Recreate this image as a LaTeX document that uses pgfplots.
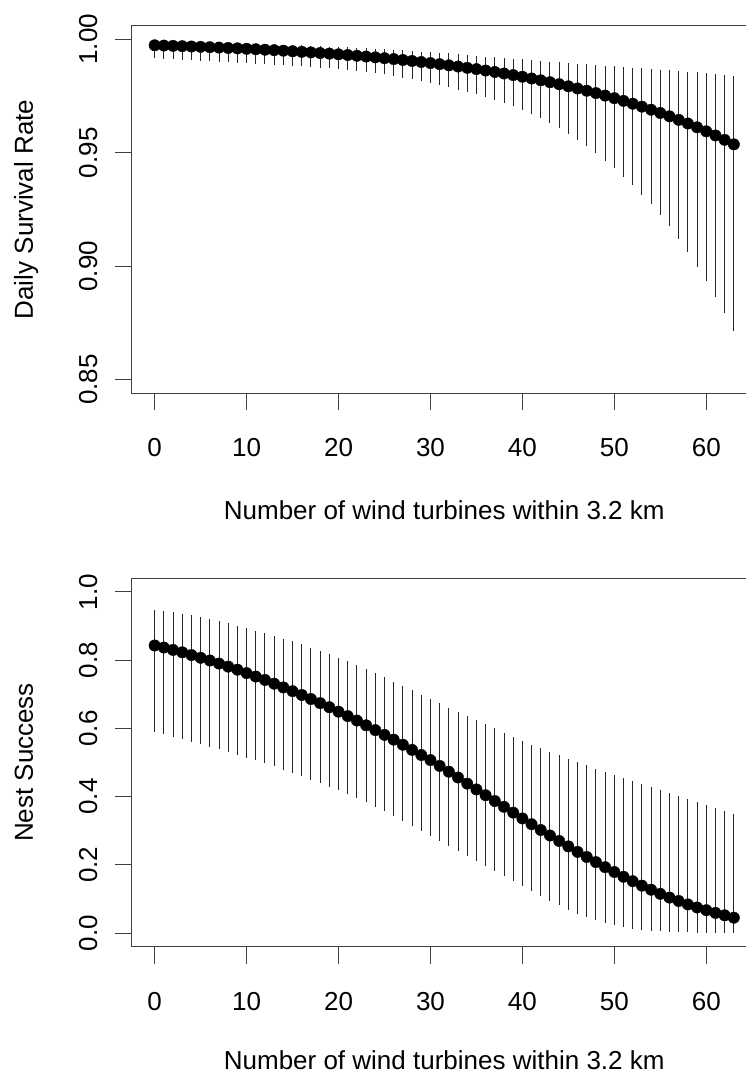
\documentclass[border=0pt]{standalone}
\usepackage{fontspec}
\setmainfont{Liberation Sans}
\usepackage{pgfplots}
\usepackage{pgfplotstable}
\pgfplotsset{compat=1.18}

% Daily survival rate: x, estimate, lower, upper
\pgfplotstableread{
x y lo hi
0 0.997359 0.99194 0.99906
1 0.997234 0.99150 0.99899
2 0.997104 0.99135 0.99892
3 0.996968 0.99106 0.99884
4 0.996825 0.99077 0.99877
5 0.996676 0.99062 0.99868
6 0.996519 0.99047 0.99859
7 0.996355 0.99018 0.99850
8 0.996184 0.99003 0.99839
9 0.996004 0.98974 0.99828
10 0.995816 0.98959 0.99817
11 0.995619 0.98930 0.99805
12 0.995413 0.98901 0.99792
13 0.995197 0.98886 0.99778
14 0.994971 0.98857 0.99765
15 0.994735 0.98842 0.99749
16 0.994488 0.98813 0.99734
17 0.994229 0.98783 0.99718
18 0.993958 0.98754 0.99700
19 0.993674 0.98725 0.99682
20 0.993377 0.98695 0.99662
21 0.993066 0.98651 0.99644
22 0.992741 0.98607 0.99623
23 0.992401 0.98563 0.99603
24 0.992045 0.98519 0.99580
25 0.991672 0.98461 0.99557
26 0.991282 0.98390 0.99534
27 0.990874 0.98315 0.99511
28 0.990446 0.98235 0.99487
29 0.990000 0.98152 0.99460
30 0.989532 0.98065 0.99434
31 0.989042 0.97975 0.99414
32 0.988531 0.97880 0.99375
33 0.987996 0.97780 0.99338
34 0.987436 0.97677 0.99300
35 0.986849 0.97570 0.99265
36 0.986237 0.97455 0.99232
37 0.985596 0.97330 0.99200
38 0.984926 0.97195 0.99170
39 0.984225 0.97050 0.99140
40 0.983491 0.96895 0.99110
41 0.982725 0.96720 0.99080
42 0.981924 0.96530 0.99050
43 0.981086 0.96310 0.99020
44 0.980210 0.96070 0.98990
45 0.979294 0.95830 0.98960
46 0.978337 0.95570 0.98930
47 0.977336 0.95285 0.98900
48 0.976291 0.94975 0.98870
49 0.975198 0.94650 0.98840
50 0.974056 0.94310 0.98810
51 0.972864 0.93950 0.98780
52 0.971618 0.93565 0.98750
53 0.970317 0.93160 0.98720
54 0.968958 0.92730 0.98690
55 0.967538 0.92265 0.98660
56 0.966057 0.91760 0.98630
57 0.964510 0.91215 0.98600
58 0.962895 0.90620 0.98570
59 0.961209 0.89985 0.98540
60 0.959451 0.89345 0.98510
61 0.957616 0.88665 0.98475
62 0.955702 0.87935 0.98440
63 0.953707 0.87160 0.98404
}\dsr

% Nest success: x, estimate, lower, upper
\pgfplotstableread{
x y lo hi
0 0.843 0.5901 0.9460
1 0.837 0.5832 0.9432
2 0.830 0.5760 0.9400
3 0.823 0.5688 0.9362
4 0.815 0.5614 0.9312
5 0.807 0.5538 0.9254
6 0.799 0.5461 0.9195
7 0.790 0.5384 0.9140
8 0.781 0.5306 0.9080
9 0.772 0.5227 0.9012
10 0.762 0.5146 0.8940
11 0.752 0.5060 0.8865
12 0.742 0.4972 0.8790
13 0.731 0.4884 0.8713
14 0.720 0.4791 0.8633
15 0.709 0.4695 0.8548
16 0.698 0.4597 0.8460
17 0.686 0.4499 0.8370
18 0.674 0.4398 0.8278
19 0.662 0.4294 0.8180
20 0.649 0.4185 0.8077
21 0.636 0.4068 0.7965
22 0.623 0.3951 0.7850
23 0.609 0.3831 0.7735
24 0.595 0.3706 0.7617
25 0.581 0.3577 0.7499
26 0.567 0.3428 0.7372
27 0.552 0.3279 0.7244
28 0.537 0.3130 0.7115
29 0.522 0.2981 0.6990
30 0.507 0.2832 0.6862
31 0.490 0.2689 0.6738
32 0.473 0.2546 0.6612
33 0.456 0.2404 0.6488
34 0.438 0.2263 0.6365
35 0.421 0.2126 0.6244
36 0.404 0.1979 0.6121
37 0.387 0.1832 0.5998
38 0.370 0.1685 0.5876
39 0.353 0.1538 0.5755
40 0.336 0.1391 0.5636
41 0.319 0.1244 0.5527
42 0.302 0.1097 0.5420
43 0.286 0.0952 0.5315
44 0.270 0.0810 0.5210
45 0.254 0.0675 0.5107
46 0.238 0.0560 0.5008
47 0.223 0.0465 0.4912
48 0.208 0.0380 0.4818
49 0.193 0.0305 0.4723
50 0.179 0.0240 0.4627
51 0.165 0.0180 0.4535
52 0.152 0.0132 0.4445
53 0.139 0.0095 0.4355
54 0.127 0.0068 0.4268
55 0.115 0.0050 0.4185
56 0.104 0.0037 0.4100
57 0.094 0.0027 0.4015
58 0.084 0.0020 0.3930
59 0.075 0.0015 0.3847
60 0.067 0.0011 0.3764
61 0.059 0.0008 0.3675
62 0.052 0.0006 0.3590
63 0.045 0.0004 0.3499
}\nest

\pgfplotsset{
  rstyle/.style={
    scale only axis,
    width=625.5pt,
    xmin=-2.52, xmax=65.52,
    axis line style={black!75, line width=1.1pt},
    tick style={black!75, line width=1.1pt},
    tick align=outside,
    major tick length=17pt,
    xtick pos=bottom, ytick pos=left,
    xtick={0,10,...,60},
    ticklabel style={font=\fontsize{26}{30}\selectfont},
    label style={font=\fontsize{26}{30}\selectfont},
    /pgf/number format/assume math mode=true,
    xticklabel style={anchor=base},
    xticklabel shift=46.4pt,
    yticklabel style={rotate=90, anchor=base},
    yticklabel shift=17.5pt,
    xlabel={Number of wind turbines within 3.2 km},
    ylabel style={at={(axis description cs:-0.1575,0.5)}, anchor=base, rotate=0},
  },
  rplot/.style={
    only marks, mark=*, mark size=5.7pt,
    mark options={fill=black, draw=black},
    error bars/y dir=both, error bars/y explicit,
    error bars/error mark=none,
    error bars/error bar style={line width=1pt, black!85},
  },
}

\begin{document}
\begin{tikzpicture}
\begin{axis}[rstyle,
  at={(131.5pt,682.7pt)}, anchor=south west,
  height=367.6pt,
  ymin=0.844, ymax=1.006,
  ytick={0.85,0.90,0.95,1.00},
  yticklabel style={/pgf/number format/.cd, fixed, fixed zerofill, precision=2},
  ylabel={Daily Survival Rate},
  xlabel style={at={(axis description cs:0.5,-0.3428)}, anchor=base},
]
\addplot+[rplot] table[x=x, y=y,
  y error plus expr={\thisrow{hi}-\thisrow{y}},
  y error minus expr={\thisrow{y}-\thisrow{lo}}] {\dsr};
\end{axis}

\begin{axis}[rstyle,
  at={(131.5pt,129.3pt)}, anchor=south west,
  height=368.4pt,
  ymin=-0.04, ymax=1.04,
  ytick={0,0.2,0.4,0.6,0.8,1.0},
  yticklabel style={/pgf/number format/.cd, fixed, fixed zerofill, precision=1},
  ylabel={Nest Success},
  xlabel style={at={(axis description cs:0.5,-0.3335)}, anchor=base},
]
\addplot+[rplot] table[x=x, y=y,
  y error plus expr={\thisrow{hi}-\thisrow{y}},
  y error minus expr={\thisrow{y}-\thisrow{lo}}] {\nest};
\end{axis}
\pgfresetboundingbox
\useasboundingbox (0,0) rectangle (746pt,1076pt);
\end{tikzpicture}
\end{document}
